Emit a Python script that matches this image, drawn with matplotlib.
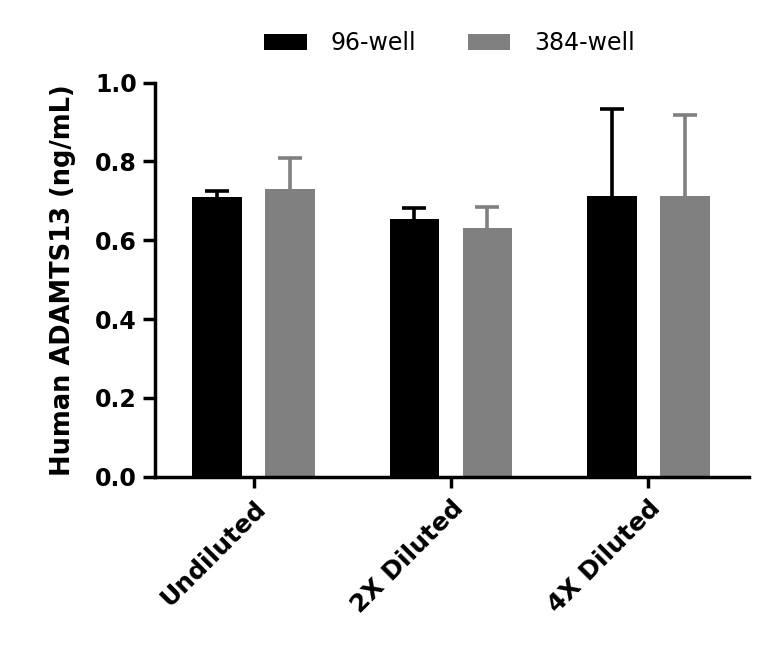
import numpy as np
import matplotlib
matplotlib.use("Agg")
import matplotlib.pyplot as plt

categories = ["Undiluted", "2X Diluted", "4X Diluted"]
series_names = ["96-well", "384-well"]
well96 = [0.711, 0.653, 0.712]
well96_err = [0.014, 0.029, 0.222]
well384 = [0.730, 0.632, 0.712]
well384_err = [0.080, 0.053, 0.207]
y_ticks = [0.0, 0.2, 0.4, 0.6, 0.8, 1.0]

colors = ["#000000", "#808080"]

plt.rcParams["font.family"] = ["DejaVu Sans"]

fig = plt.figure(figsize=(7.68, 6.47), dpi=100)
ax = fig.add_axes([0.2018, 0.2632, 0.7732, 0.609])

x = np.arange(len(categories))
width = 0.252
offset = 0.185

for i, (vals, errs) in enumerate([(well96, well96_err), (well384, well384_err)]):
    pos = x + (i * 2 - 1) * offset
    ax.bar(pos, vals, width, color=colors[i], label=series_names[i], zorder=2)
    eb = ax.errorbar(pos, vals, yerr=[np.zeros(len(errs)), errs], fmt="none",
                     ecolor=colors[i], elinewidth=2.6, capsize=8.5, capthick=2.6, zorder=3)
    # only the upper cap is wanted
    for cap in eb[1]:
        if np.allclose(cap.get_ydata(), vals):
            cap.set_visible(False)

ax.set_xlim(-0.5, 2.51)
ax.set_ylim(0, 1.0)
ax.set_yticks(y_ticks)
ax.set_yticklabels([f"{t:.1f}" for t in y_ticks], fontsize=17, fontweight="bold")
ax.set_xticks(x)
ax.set_xticklabels(categories, fontsize=18, fontweight="bold", rotation=45,
                   ha="right", rotation_mode="anchor")
ax.set_ylabel("Human ADAMTS13 (ng/mL)", fontsize=18.5, fontweight="bold", labelpad=14)

for side in ["top", "right"]:
    ax.spines[side].set_visible(False)
for side in ["left", "bottom"]:
    ax.spines[side].set_linewidth(2.5)
ax.tick_params(axis="y", length=9, width=2.5, pad=4)
ax.tick_params(axis="x", length=8, width=2.5, pad=6)

fig.legend(loc="center", bbox_to_anchor=(0.585, 0.933), ncol=2, frameon=False,
           fontsize=17, handlelength=1.8, handleheight=0.7,
           handletextpad=1.0, columnspacing=2.2)

fig.savefig("out.png", dpi=100)
